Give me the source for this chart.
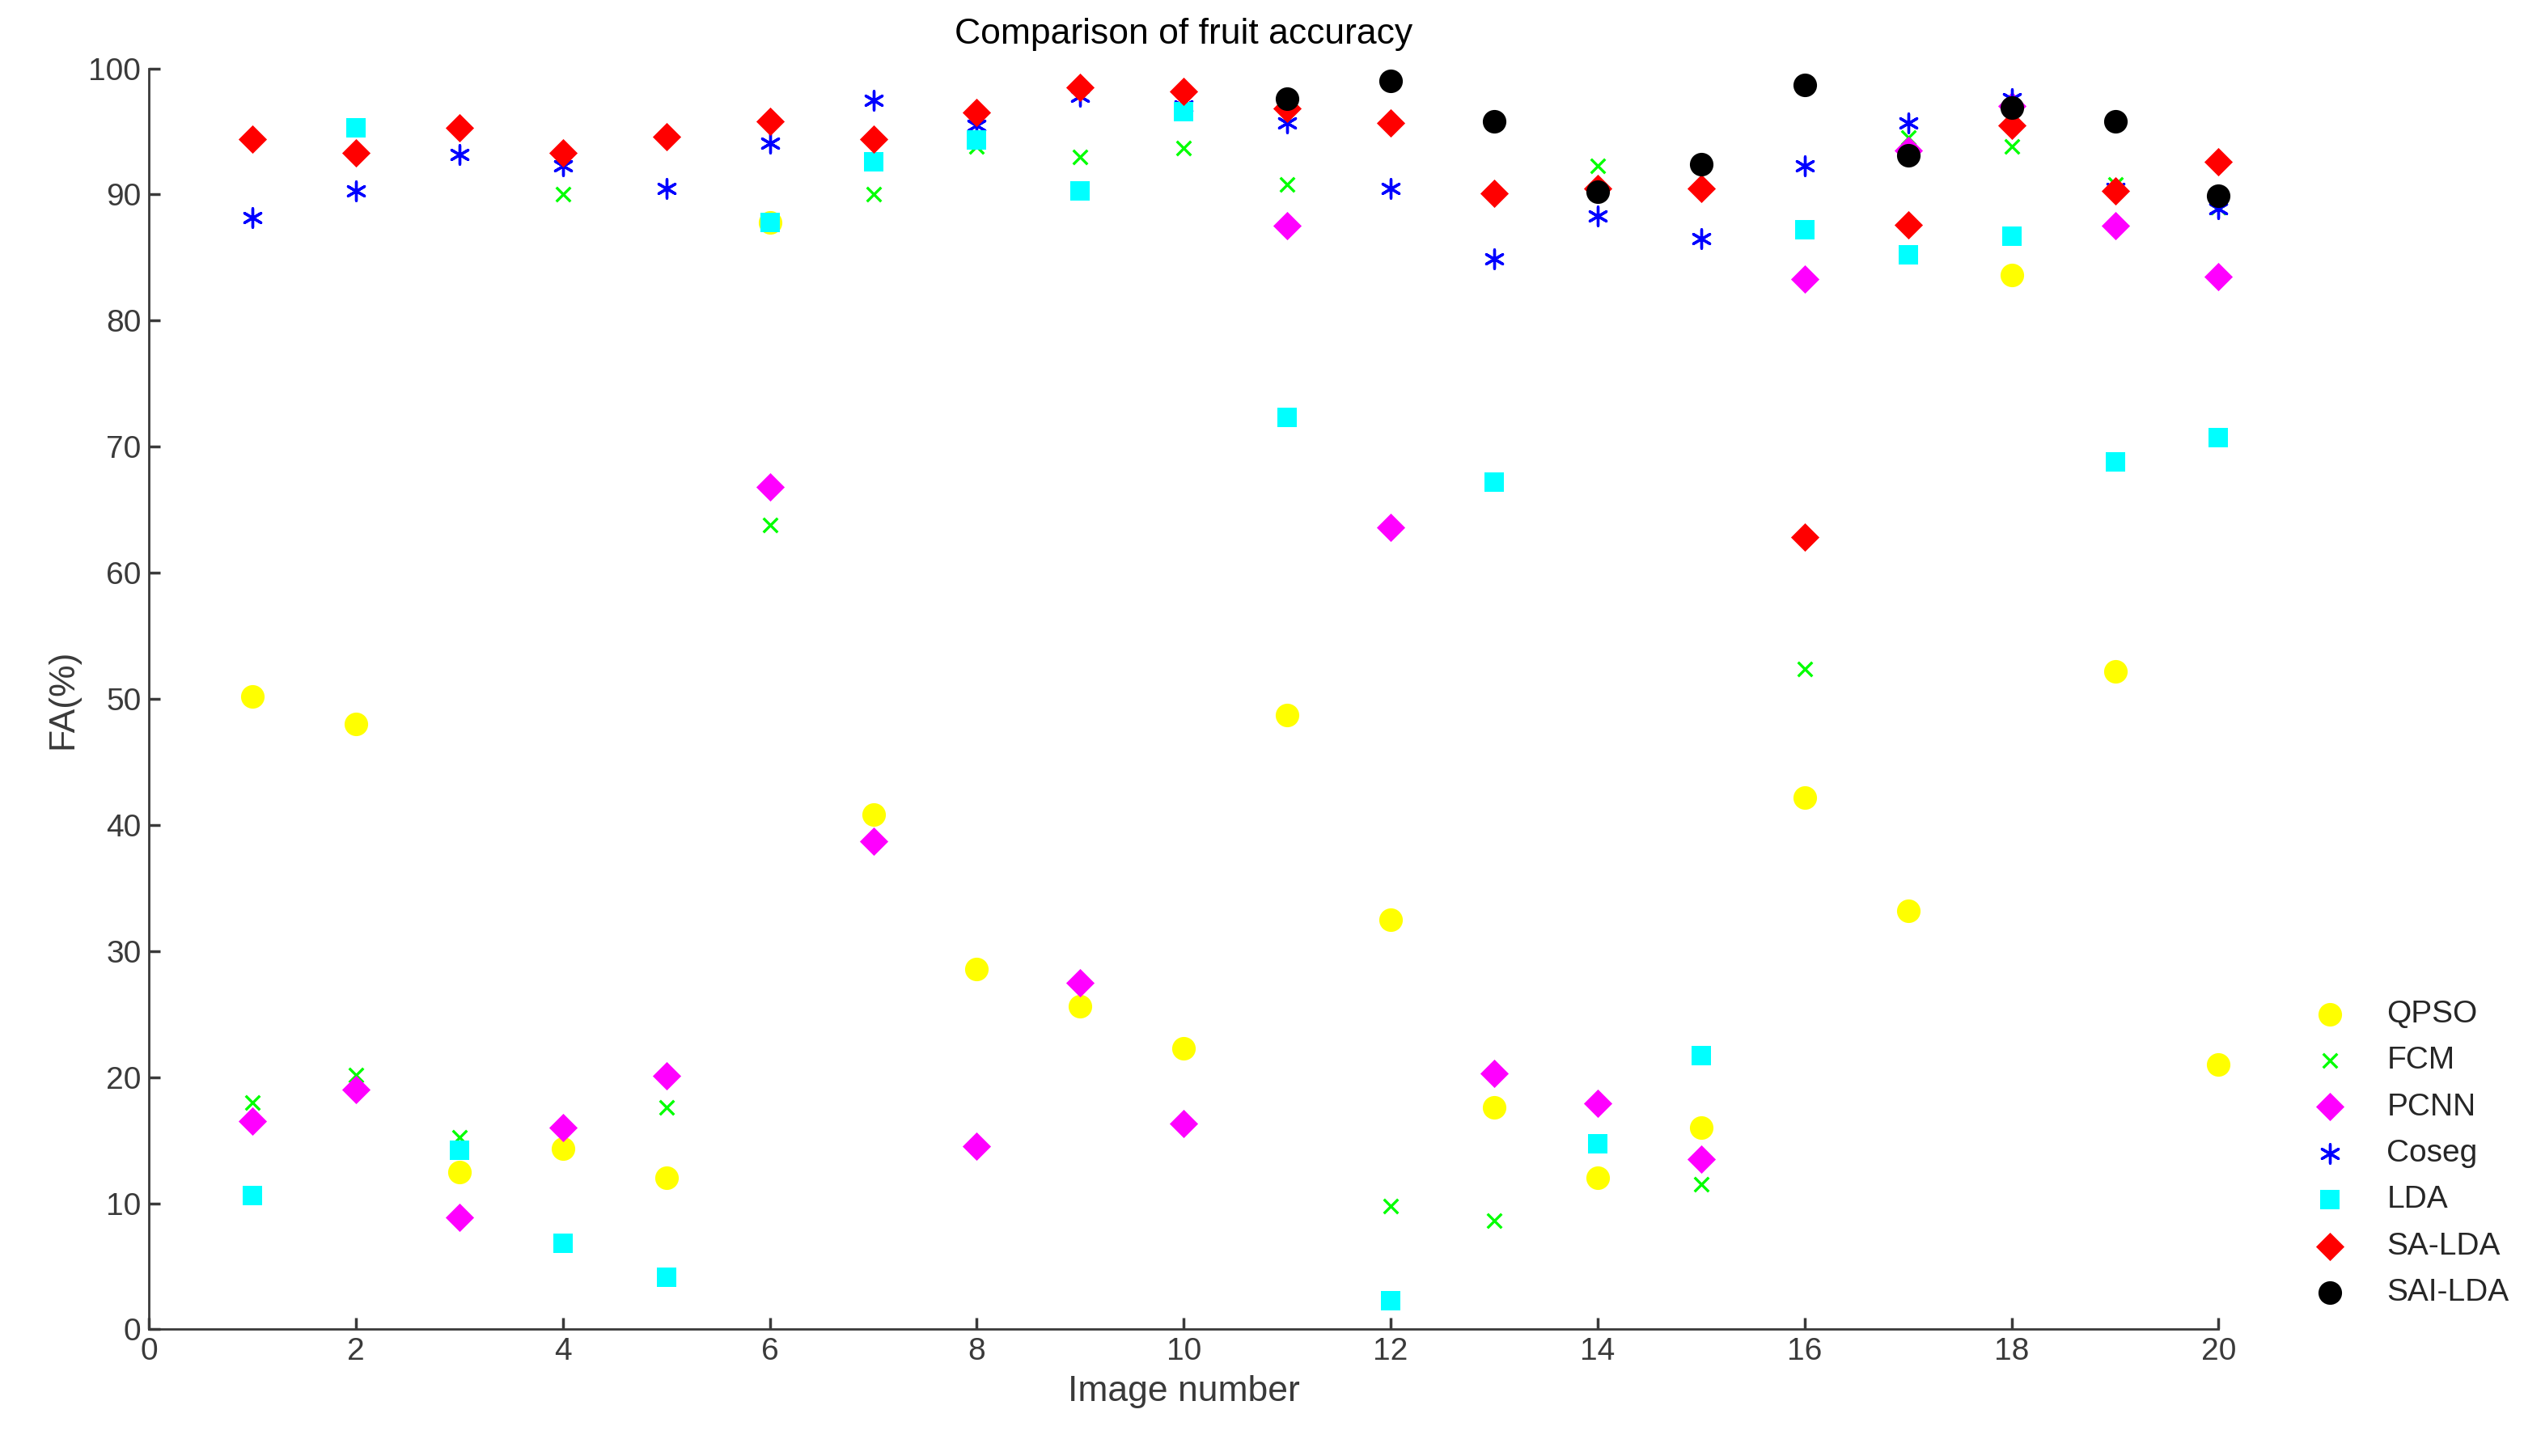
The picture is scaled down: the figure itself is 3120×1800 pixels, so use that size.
import numpy as np, pandas as pd, matplotlib
matplotlib.use("Agg")
import matplotlib.pyplot as plt, seaborn as sns

images = list(range(1, 21))
qpso  = [50.2,48,12.5,14.3,12,87.8,40.8,28.6,25.6,22.3,48.7,32.5,17.6,12,16,42.2,33.2,83.6,52.2,21]
fcm   = [18,20.2,15.2,90,17.6,63.8,90,93.8,93,93.7,90.8,9.8,8.6,92.3,11.5,52.4,94.5,93.8,90.8,89]
pcnn  = [16.5,19,8.9,16,20.1,66.8,38.7,14.5,27.5,16.3,87.5,63.6,20.3,17.9,13.5,83.3,93.5,97,87.5,83.5]
coseg = [88.2,90.3,93.2,92.3,90.5,94.1,97.5,95.5,97.8,97,95.7,90.5,84.9,88.3,86.5,92.3,95.7,97.6,90.5,88.9]
lda   = [10.6,95.3,14.2,6.8,4.1,87.8,92.6,94.3,90.3,96.6,72.3,2.3,67.2,14.7,21.7,87.2,85.2,86.7,68.8,70.7]
salda = [94.4,93.3,95.3,93.3,94.6,95.8,94.4,96.5,98.5,98.2,96.8,95.7,90.1,90.5,90.5,62.8,87.6,95.5,90.3,92.6]
sailda= [np.nan]*10 + [97.6,99,95.8,90.2,92.4,98.7,93.1,96.9,95.8,89.9]

series = {"QPSO": qpso, "FCM": fcm, "PCNN": pcnn, "Coseg": coseg, "LDA": lda, "SA-LDA": salda, "SAI-LDA": sailda}
df = pd.DataFrame([(k, x, v) for k, vals in series.items() for x, v in zip(images, vals)], columns=["method","image","fa"]).dropna()

sns.set_theme(style="white")
plt.rcParams['font.family'] = ['Liberation Sans', 'DejaVu Sans']
fig = plt.figure(figsize=(15.6, 9), dpi=200)
ax = fig.add_axes([0.059, 0.087, 0.82, 0.866])
colors = {"QPSO":"#ffff00","FCM":"#00ff00","PCNN":"#ff00ff","Coseg":"#0000ff","LDA":"#00ffff","SA-LDA":"#ff0000","SAI-LDA":"#000000"}
markers = {"QPSO":"o","FCM":"x","PCNN":"D","Coseg":(6,2,0),"LDA":"s","SA-LDA":"D","SAI-LDA":"o"}
sizes = {"QPSO":110,"FCM":40,"PCNN":80,"Coseg":70,"LDA":70,"SA-LDA":80,"SAI-LDA":110}
for m in series:
    d = df[df.method == m]
    kw = dict(linewidth=1.2) if m in ("FCM","Coseg") else dict(linewidth=0)
    sns.scatterplot(data=d, x="image", y="fa", ax=ax, color=colors[m], marker=markers[m], s=sizes[m], label=m,
                    edgecolor=colors[m] if m not in ("FCM","Coseg") else None, clip_on=False, zorder=3, **kw)
ax.set_xlim(0, 20); ax.set_ylim(0, 100)
ax.set_xticks(range(0, 21, 2)); ax.set_yticks(range(0, 101, 10))
ax.tick_params(direction="in", length=5, labelsize=14, colors="#3a3a3a", top=False, right=False, bottom=True, left=True)
for k in ("top", "right"):
    ax.spines[k].set_visible(False)
for k in ("left", "bottom"):
    ax.spines[k].set_color("#3a3a3a"); ax.spines[k].set_linewidth(1.0)
ax.set_xlabel("Image number", fontsize=16, color="#3a3a3a")
ax.set_ylabel("FA(%)", fontsize=16, color="#3a3a3a")
ax.set_title("Comparison of fruit accuracy", fontsize=16, color="#000000", pad=11)
leg = ax.legend(loc="lower left", bbox_to_anchor=(1.025, -0.005), frameon=False, fontsize=14, labelspacing=0.55, handletextpad=0.8)
for t in leg.get_texts():
    t.set_color("#262626")
fig.savefig("out.png", dpi=200)
